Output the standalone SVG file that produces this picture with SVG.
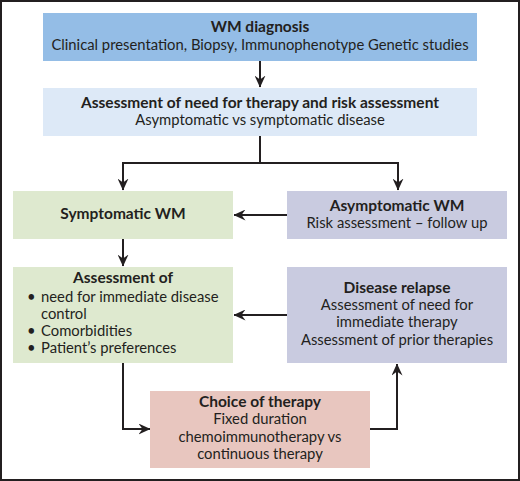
<svg xmlns="http://www.w3.org/2000/svg" width="520" height="481" viewBox="0 0 520 481">
<defs>
<marker id="ah" viewBox="0 0 12 11" refX="11.5" refY="5.5" markerWidth="12" markerHeight="11" markerUnits="userSpaceOnUse" orient="auto">
<path d="M0,0 L12,5.5 L0,11 L4,5.5 Z" fill="#231f20"/>
</marker>
</defs>
<style>
text{font-family:Lato,"Noto Sans",sans-serif;fill:#231f20;font-size:14.8px}
.t{font-weight:bold;text-anchor:middle;font-size:15.5px}
.c{text-anchor:middle}
.e{stroke:#231f20;stroke-width:2;fill:none}
</style>
<rect x="1" y="1" width="518" height="479" fill="#ffffff" stroke="#231f20" stroke-width="2"/>
<g id="connectors">
<path class="e" d="M260,61 V87" marker-end="url(#ah)"/>
<path class="e" d="M260,136 V163 M123,163 H398"/>
<path class="e" d="M123,162 V190" marker-end="url(#ah)"/>
<path class="e" d="M398,162 V190" marker-end="url(#ah)"/>
<path class="e" d="M287,215 H234" marker-end="url(#ah)"/>
<path class="e" d="M123,239 V266" marker-end="url(#ah)"/>
<path class="e" d="M287,315 H234" marker-end="url(#ah)"/>
<path class="e" d="M123,363 V429 H150" marker-end="url(#ah)"/>
<path class="e" d="M370,429 H397 V364" marker-end="url(#ah)"/>
</g>
<g id="diagnosis">
<rect x="43" y="13" width="434" height="48" fill="#94bde6"/>
<text class="t" x="260" y="32">WM diagnosis</text>
<text class="c" x="260" y="50">Clinical presentation, Biopsy, Immunophenotype Genetic studies</text>
</g>
<g id="need">
<rect x="43" y="88" width="434" height="48" fill="#dde9f7"/>
<text class="t" x="260" y="108">Assessment of need for therapy and risk assessment</text>
<text class="c" x="260" y="125">Asymptomatic vs symptomatic disease</text>
</g>
<g id="symptomatic">
<rect x="13" y="191" width="220" height="48" fill="#dee9cf"/>
<text class="t" x="123" y="219">Symptomatic WM</text>
</g>
<g id="asymptomatic">
<rect x="287" y="191" width="220" height="48" fill="#c9cbe0"/>
<text class="t" x="397" y="211">Asymptomatic WM</text>
<text class="c" x="397" y="228">Risk assessment – follow up</text>
</g>
<g id="assessment">
<rect x="13" y="267" width="220" height="96" fill="#dee9cf"/>
<text class="t" x="123" y="283">Assessment of</text>
<text x="27" y="302">•</text>
<text x="41" y="302">need for immediate disease</text>
<text x="41" y="319">control</text>
<text x="27" y="336">•</text>
<text x="41" y="336">Comorbidities</text>
<text x="27" y="353">•</text>
<text x="41" y="353">Patient’s preferences</text>
</g>
<g id="relapse">
<rect x="287" y="267" width="220" height="96" fill="#c9cbe0"/>
<text class="t" x="397" y="293">Disease relapse</text>
<text class="c" x="397" y="310">Assessment of need for</text>
<text class="c" x="397" y="327">immediate therapy</text>
<text class="c" x="397" y="345">Assessment of prior therapies</text>
</g>
<g id="choice">
<rect x="150" y="391" width="220" height="77" fill="#e8c6bf"/>
<text class="t" x="260" y="407">Choice of therapy</text>
<text class="c" x="260" y="424">Fixed duration</text>
<text class="c" x="260" y="442">chemoimmunotherapy vs</text>
<text class="c" x="260" y="459">continuous therapy</text>
</g>
</svg>
